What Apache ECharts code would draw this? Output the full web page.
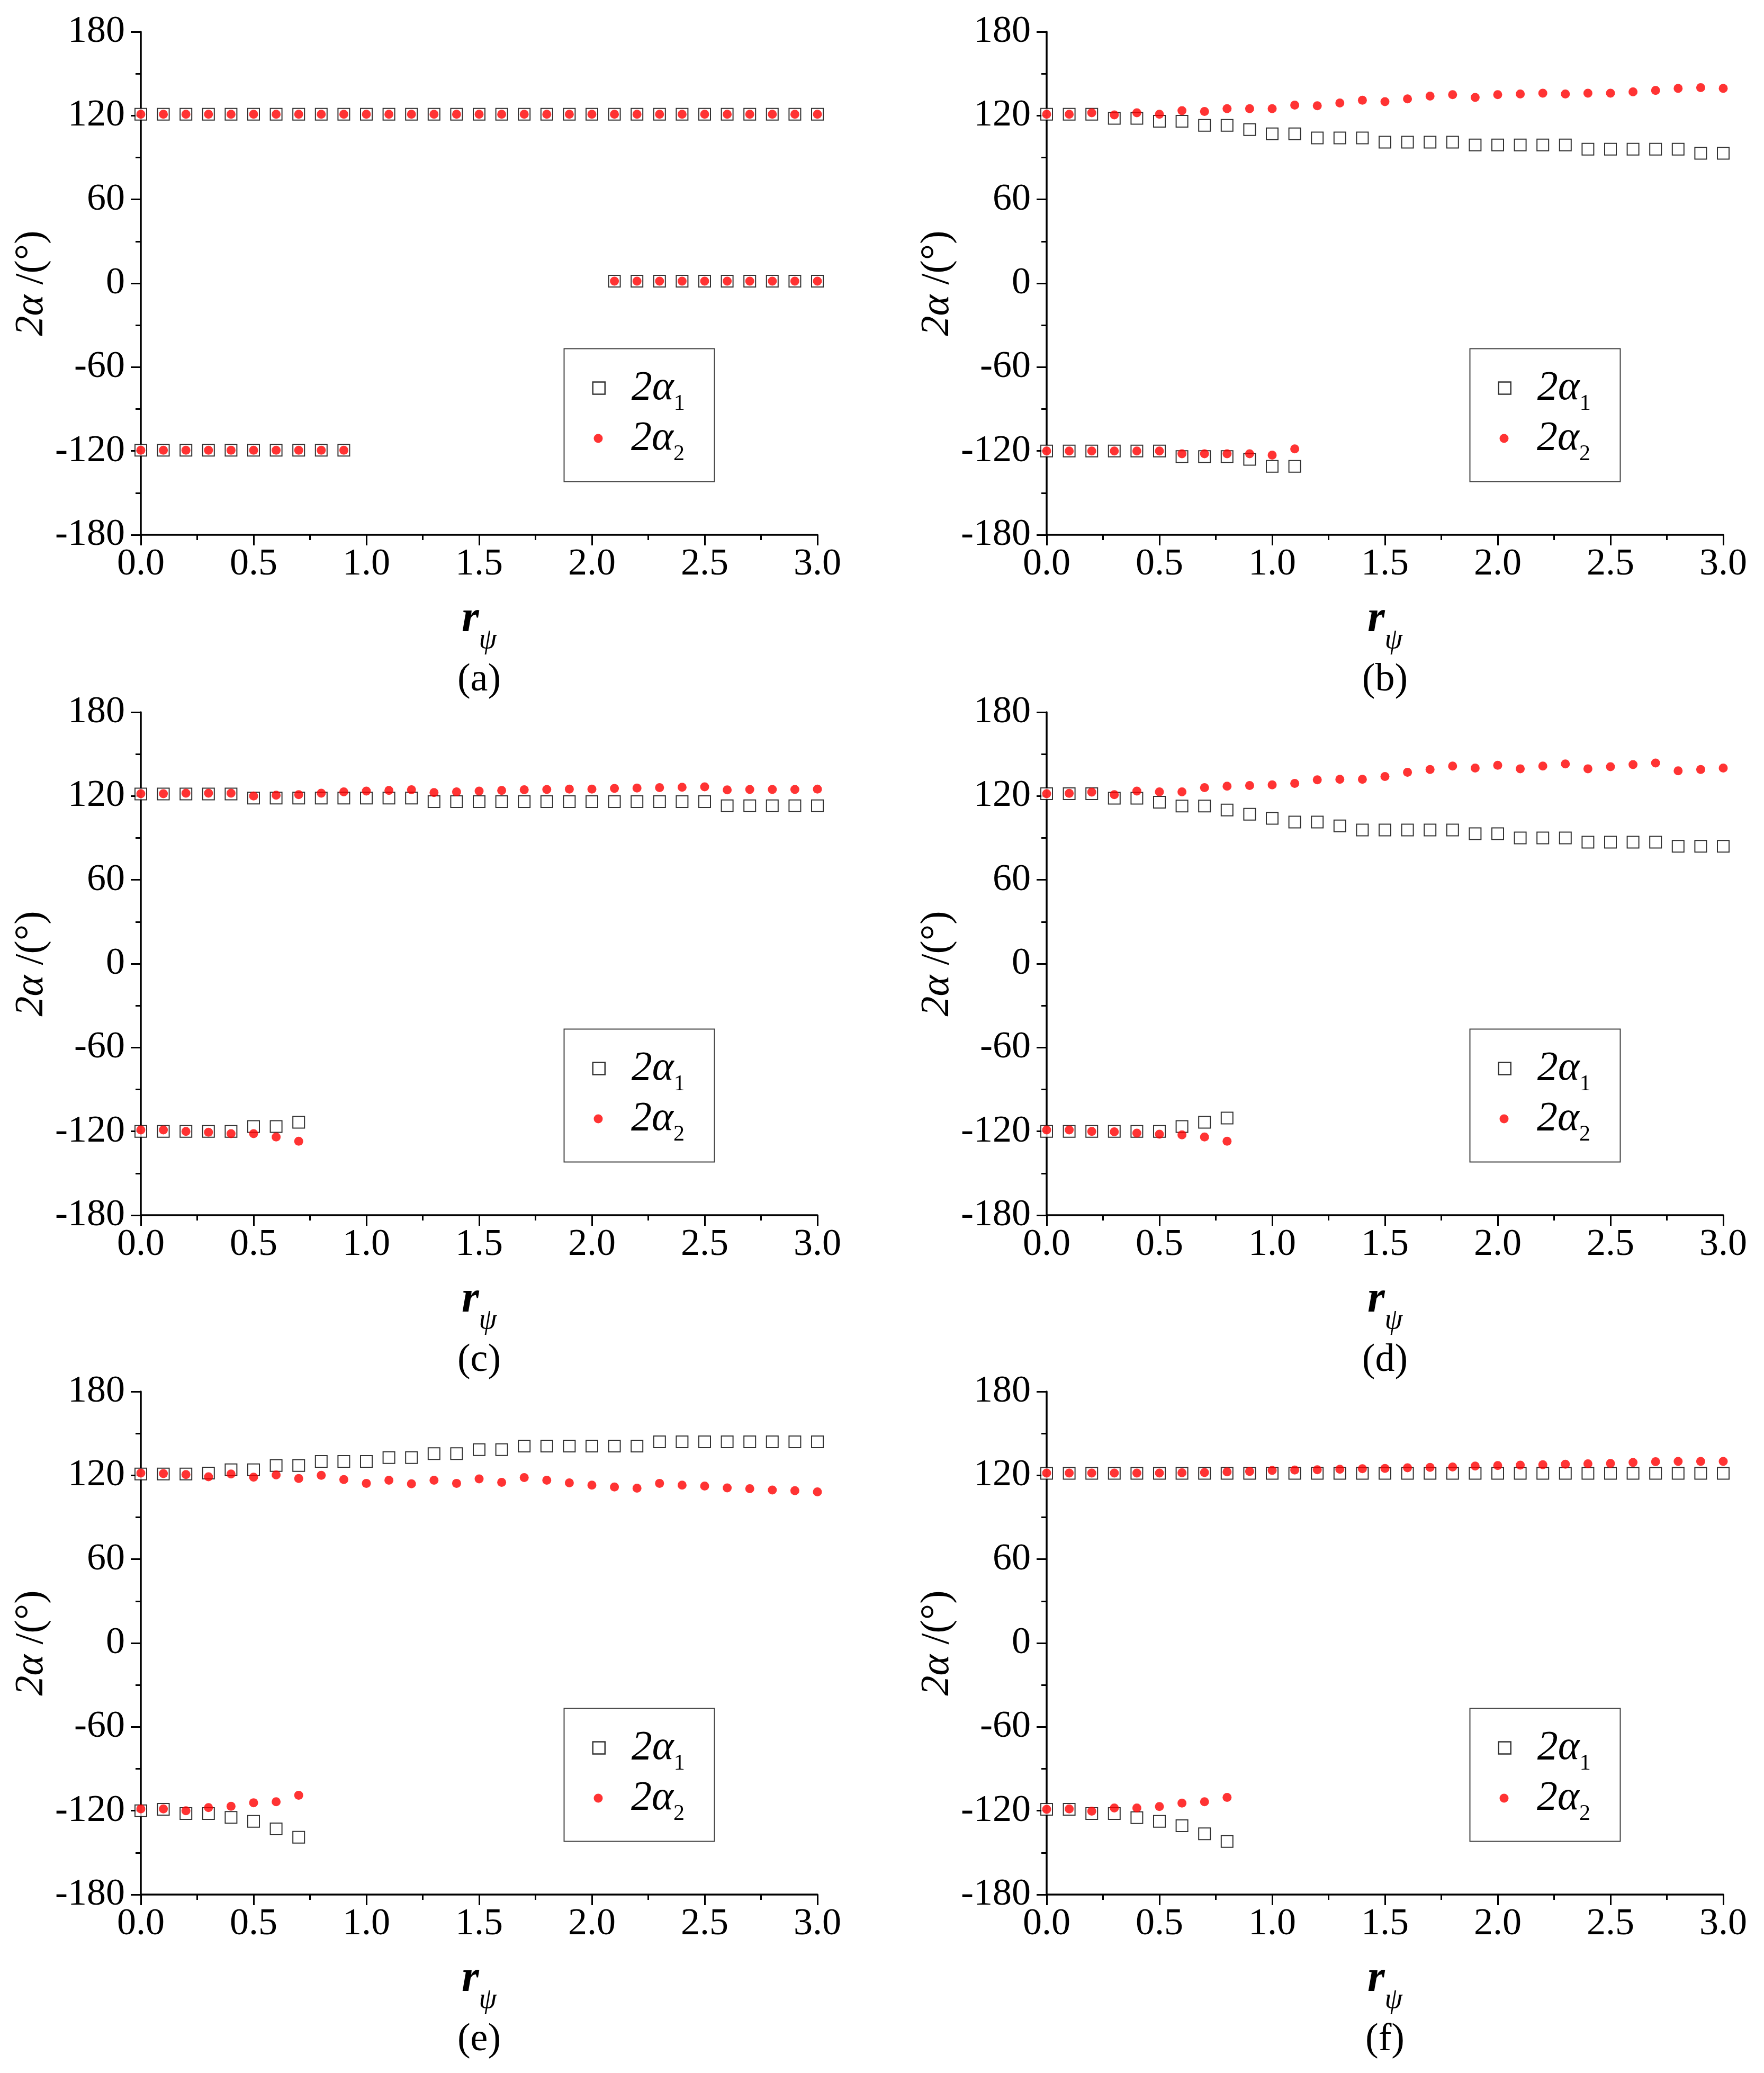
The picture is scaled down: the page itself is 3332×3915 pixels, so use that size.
<!DOCTYPE html>
<html>
<head>
<meta charset="UTF-8">
<title>2α - rψ</title>
<script src="https://cdn.jsdelivr.net/npm/echarts@6/dist/echarts.min.js"></script>
<style>
  body{margin:0;background:#fff}
</style>
</head>
<body>
<div id="main" style="width:3332px;height:3915px"></div>
<script type="text/javascript">
// r_psi positions
var rFull = [0.0,0.1,0.2,0.3,0.4,0.5,0.6,0.7,0.8,0.9,1.0,1.1,1.2,1.3,1.4,1.5,1.6,1.7,1.8,1.9,2.0,2.1,2.2,2.3,2.4,2.5,2.6,2.7,2.8,2.9,3.0];
var rLow8 = [0.0,0.1,0.2,0.3,0.4,0.5,0.6,0.7];
var rLow9 = [0.0,0.1,0.2,0.3,0.4,0.5,0.6,0.7,0.8];
var rLow10 = [0.0,0.1,0.2,0.3,0.4,0.5,0.6,0.7,0.8,0.9];
var rLow12 = [0.0,0.1,0.2,0.3,0.4,0.5,0.6,0.7,0.8,0.9,1.0,1.1];
var rZero = [2.1,2.2,2.3,2.4,2.5,2.6,2.7,2.8,2.9,3.0];

// (a)
var aUp1 = [121,121,121,121,121,121,121,121,121,121,121,121,121,121,121,121,121,121,121,121,121,121,121,121,121,121,121,121,121,121,121];
var aUp2 = [121,121,121,121,121,121,121,121,121,121,121,121,121,121,121,121,121,121,121,121,121,121,121,121,121,121,121,121,121,121,121];
var aLow1 = [-119.5,-119.5,-119.5,-119.5,-119.5,-119.5,-119.5,-119.5,-119.5,-119.5];
var aLow2 = [-119.5,-119.5,-119.5,-119.5,-119.5,-119.5,-119.5,-119.5,-119.5,-119.5];
var aZero1 = [1.5,1.5,1.5,1.5,1.5,1.5,1.5,1.5,1.5,1.5];
var aZero2 = [1.5,1.5,1.5,1.5,1.5,1.5,1.5,1.5,1.5,1.5];

// (b)
var bUp1 = [121,121,121,118,118,116,116,113,113,110,107,107,104,104,104,101,101,101,101,99,99,99,99,99,96,96,96,96,96,93,93];
var bUp2 = [121,121,122,120.5,122,121,123.5,123,125,125,125,127.5,127,129,131,130,132,134,135,133,135,135.5,136,135.5,136,136,137,138,139.5,140,139.5];
var bLow1 = [-120,-120,-120,-120,-120,-120,-124,-124,-124,-126,-131,-131];
var bLow2 = [-120,-120,-120,-120,-120,-120,-122,-122,-122,-122,-123,-118.5];

// (c)
var cUp1 = [121.5,121.5,121.5,121.5,121.5,118.5,118.5,118.5,118.5,118.5,118.5,118.5,118.5,116,116,116,116,116,116,116,116,116,116,116,116,116,113,113,113,113,113];
var cUp2 = [121.6,121.6,122,122,122,120,120.6,121,122,123,123.5,124,124.5,122.5,123,123.5,124,124.5,124.7,125,125,125.4,125.7,126,126.3,126.6,124.4,124.7,124.7,124.7,125];
var cLow1 = [-120,-120,-120,-120,-120,-116.5,-116.5,-113.5];
var cLow2 = [-119,-119,-120,-120.6,-121.6,-121.6,-124,-127];

// (d)
var dUp1 = [121.6,121.6,121.6,118.4,118.4,115.6,112.8,112.8,110,107,104,101.4,101.4,98.6,95.7,95.7,95.7,95.7,95.7,93,93,90,90,90,87,87,87,87,84,84,84];
var dUp2 = [121.6,121.9,122.8,121,123.5,123,123,126,127,127.5,128,129,131.6,132,132,134,137,139,141.4,140,142,139.5,141.4,143,139.5,141,142.5,143.6,138,139,140];
var dLow1 = [-120,-120,-120,-120,-120,-120,-116.5,-113.5,-110.5];
var dLow2 = [-119,-119,-120,-120.3,-121.3,-122,-122.5,-124,-127];

// (e)
var eUp1 = [121,121,121,121.6,124,124,127,127,130,130,130,132.7,132.7,135.6,135.6,138.4,138.4,141,141,141,141,141,141,144,144,144,144,144,144,144,144];
var eUp2 = [121.6,121.3,120.6,119,121,118.7,120.3,117.8,120,117,114.3,116.5,114,116.5,114.3,117.5,115,118.4,116.5,114.6,113,111.7,110.8,114.3,113,112.4,111,110.5,109.5,109,108.2];
var eLow1 = [-120,-119,-122,-122,-124.8,-127.6,-133,-139];
var eLow2 = [-118.7,-118.7,-120,-117.8,-116.8,-114.3,-113.6,-108.9];

// (f)
var fUp1 = [121.5,121.5,121.5,121.5,121.5,121.5,121.5,121.5,121.5,121.5,121.5,121.5,121.5,121.5,121.5,121.5,121.5,121.5,121.5,121.5,121.5,121.5,121.5,121.5,121.5,121.5,121.5,121.5,121.5,121.5,121.5];
var fUp2 = [121.6,121.6,121.6,121.6,121.6,121.6,121.8,122,122.5,122.8,123.5,123.8,124,124.4,124.8,125,125.4,125.7,126,126.7,127,127.3,127.6,128,128.3,128.6,129.2,129.8,130,130,130];
var fLow1 = [-119,-119,-122,-122,-125,-127.6,-130.7,-136.5,-142];
var fLow2 = [-119,-118.7,-120.3,-118,-118,-117,-114.5,-113.6,-110.5];

var yTicks = [-180,-120,-60,0,60,120,180];
var xTicks = [0.0,0.5,1.0,1.5,2.0,2.5,3.0];
var captions = ['(a)','(b)','(c)','(d)','(e)','(f)'];

function pts(xs, ys) {
    return xs.map(function (x, i) { return [x, ys[i]]; });
}

var panels = [
    [pts(rFull, aUp1).concat(pts(rLow10, aLow1), pts(rZero, aZero1)),
     pts(rFull, aUp2).concat(pts(rLow10, aLow2), pts(rZero, aZero2))],
    [pts(rFull, bUp1).concat(pts(rLow12, bLow1)), pts(rFull, bUp2).concat(pts(rLow12, bLow2))],
    [pts(rFull, cUp1).concat(pts(rLow8, cLow1)), pts(rFull, cUp2).concat(pts(rLow8, cLow2))],
    [pts(rFull, dUp1).concat(pts(rLow9, dLow1)), pts(rFull, dUp2).concat(pts(rLow9, dLow2))],
    [pts(rFull, eUp1).concat(pts(rLow8, eLow1)), pts(rFull, eUp2).concat(pts(rLow8, eLow2))],
    [pts(rFull, fUp1).concat(pts(rLow9, fLow1)), pts(rFull, fUp2).concat(pts(rLow9, fLow2))]
];

var FONT = 'Liberation Serif';
var colLeft = [266, 1977];
var rowTop = [60, 1345, 2628];
var gridW = 1278, gridH = 950;

var grids = [], xAxes = [], yAxes = [], series = [], legends = [], graphics = [];

panels.forEach(function (p, i) {
    var gl = colLeft[i % 2], gt = rowTop[Math.floor(i / 2)];
    grids.push({left: gl, top: gt, width: gridW, height: gridH});

    xAxes.push({
        type: 'value', gridIndex: i, min: xTicks[0], max: xTicks[xTicks.length - 1], interval: 0.5,
        axisLine: {onZero: false, lineStyle: {color: '#000', width: 3.5}},
        axisTick: {length: 20, lineStyle: {color: '#000', width: 3}},
        minorTick: {show: true, splitNumber: 2, length: 10, lineStyle: {color: '#000', width: 3}},
        splitLine: {show: false},
        axisLabel: {color: '#000', fontFamily: FONT, fontSize: 72, margin: 20,
            formatter: function (v) { return v.toFixed(1); }},
        name: '{r|r}{p|ψ}', nameLocation: 'middle', nameGap: 86,
        nameTextStyle: {fontFamily: FONT, rich: {
            r: {fontFamily: FONT, fontStyle: 'italic', fontWeight: 'bold', fontSize: 84, lineHeight: 84, color: '#000'},
            p: {fontFamily: FONT, fontStyle: 'italic', fontSize: 54, lineHeight: 54, padding: [80, 0, 0, 0], color: '#000'}
        }}
    });

    yAxes.push({
        type: 'value', gridIndex: i, min: yTicks[0], max: yTicks[yTicks.length - 1], interval: 60,
        axisLine: {onZero: false, lineStyle: {color: '#000', width: 3.5}},
        axisTick: {length: 19, lineStyle: {color: '#000', width: 3}},
        minorTick: {show: true, splitNumber: 2, length: 10, lineStyle: {color: '#000', width: 3}},
        splitLine: {show: false},
        axisLabel: {color: '#000', fontFamily: FONT, fontSize: 72, margin: 30},
        name: '{i|2α}{n| /(°)}', nameLocation: 'middle', nameGap: 168,
        nameTextStyle: {fontFamily: FONT, rich: {
            i: {fontFamily: FONT, fontStyle: 'italic', fontSize: 76, color: '#000'},
            n: {fontFamily: FONT, fontSize: 76, color: '#000'}
        }}
    });

    series.push({
        name: '2α1', type: 'scatter', xAxisIndex: i, yAxisIndex: i,
        symbol: 'rect', symbolSize: 22,
        itemStyle: {color: '#fff', borderColor: '#000', borderWidth: 2},
        data: p[0]
    });
    series.push({
        name: '2α2', type: 'scatter', xAxisIndex: i, yAxisIndex: i,
        symbol: 'circle', symbolSize: 17,
        itemStyle: {color: '#ff0000'},
        data: p[1]
    });

    legends.push({
        left: gl + 852.5, top: gt + 622, padding: 0, orient: 'vertical', selectedMode: false,
        data: [{name: '2α1', icon: 'rect'}], itemWidth: 23, itemHeight: 23,
        itemStyle: {color: '#fff', borderColor: '#000', borderWidth: 2.5},
        formatter: function () { return '{a|2α}{s|1}'; },
        textStyle: {fontFamily: FONT, rich: {
            a: {fontFamily: FONT, fontStyle: 'italic', fontSize: 78, lineHeight: 80, padding: [0, 0, 0, 45], color: '#000'},
            s: {fontFamily: FONT, fontSize: 42, lineHeight: 42, padding: [60, 0, 0, 0], color: '#000'}
        }}
    });
    legends.push({
        left: gl + 855.5, top: gt + 717, padding: 0, orient: 'vertical', selectedMode: false,
        data: [{name: '2α2', icon: 'circle'}], itemWidth: 17, itemHeight: 17,
        itemStyle: {color: '#ff0000', borderWidth: 0},
        formatter: function () { return '{a|2α}{s|2}'; },
        textStyle: {fontFamily: FONT, rich: {
            a: {fontFamily: FONT, fontStyle: 'italic', fontSize: 78, lineHeight: 80, padding: [0, 0, 0, 48.5], color: '#000'},
            s: {fontFamily: FONT, fontSize: 42, lineHeight: 42, padding: [60, 0, 0, 0], color: '#000'}
        }}
    });

    // legend frame
    graphics.push({
        type: 'rect', left: gl + 797, top: gt + 596, silent: true,
        shape: {width: 284, height: 251},
        style: {fill: 'none', stroke: '#444', lineWidth: 2}
    });
    // panel caption
    graphics.push({
        type: 'text', x: gl + gridW / 2, y: gt + 1225, silent: true,
        style: {text: captions[i], fontFamily: FONT, fontSize: 74, fill: '#000', textAlign: 'center', textVerticalAlign: 'middle'}
    });
});

var myChart = echarts.init(document.getElementById('main'));
myChart.setOption({
    backgroundColor: '#fff',
    animation: false,
    textStyle: {fontFamily: FONT},
    grid: grids,
    xAxis: xAxes,
    yAxis: yAxes,
    legend: legends,
    series: series,
    graphic: graphics
});
</script>
</body>
</html>
